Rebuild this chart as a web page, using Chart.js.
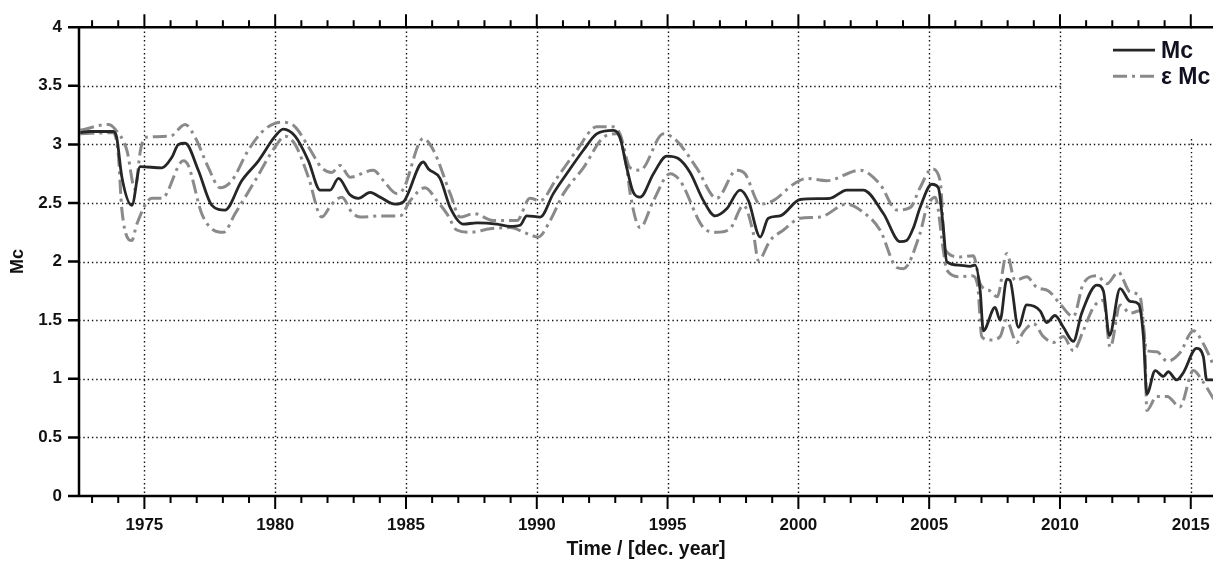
<!DOCTYPE html>
<html>
<head>
<meta charset="utf-8">
<script src="https://cdn.jsdelivr.net/npm/chart.js@4.4.1/dist/chart.umd.min.js"></script>
<style>
  html, body { margin: 0; padding: 0; background: #fff; }
  #wrap { width: 1213px; height: 561px; }
</style>
</head>
<body>
<div id="wrap"><canvas id="mcChart"></canvas></div>
<script>
// Magnitude of completeness through time, with its +/- uncertainty band
var mcYears = [1972.55, 1972.9, 1973.81, 1973.94, 1974.14, 1974.52, 1974.84, 1975.67, 1976.05, 1976.30,
  1976.56, 1977.06, 1977.58, 1978.08, 1978.72, 1979.36, 1980.00, 1980.31, 1980.76, 1981.27,
  1981.72, 1982.10, 1982.42, 1982.86, 1983.18, 1983.63, 1984.01, 1984.58, 1984.90, 1985.66,
  1985.86, 1986.30, 1986.69, 1987.19, 1987.71, 1988.47, 1988.98, 1989.36, 1989.62, 1990.13,
  1990.63, 1991.27, 1991.78, 1992.29, 1992.93, 1993.18, 1993.44, 1993.69, 1993.95, 1994.46,
  1994.97, 1995.41, 1995.86, 1996.37, 1996.82, 1997.26, 1997.77, 1998.09, 1998.54, 1998.85,
  1999.30, 2000.07, 2001.21, 2001.85, 2002.48, 2003.25, 2003.89, 2004.14, 2004.40, 2004.65,
  2005.10, 2005.35, 2005.54, 2005.67, 2006.12, 2006.56, 2006.76, 2006.95, 2007.07, 2007.52,
  2007.71, 2007.97, 2008.09, 2008.41, 2008.73, 2009.24, 2009.49, 2009.81, 2010.13, 2010.51,
  2010.83, 2011.41, 2011.66, 2011.89, 2012.30, 2012.68, 2013.00, 2013.19, 2013.32, 2013.64,
  2013.95, 2014.14, 2014.46, 2014.71, 2015.22, 2015.48, 2015.61, 2015.9];
var mcValues = [3.10, 3.11, 3.11, 3.06, 2.72, 2.48, 2.81, 2.80, 2.89, 3.00,
  3.01, 2.78, 2.48, 2.44, 2.69, 2.86, 3.07, 3.13, 3.07, 2.86,
  2.61, 2.61, 2.71, 2.57, 2.54, 2.59, 2.55, 2.49, 2.51, 2.85,
  2.79, 2.71, 2.46, 2.32, 2.33, 2.32, 2.30, 2.31, 2.39, 2.38,
  2.58, 2.79, 2.95, 3.09, 3.12, 3.06, 2.80, 2.59, 2.55, 2.75,
  2.90, 2.88, 2.76, 2.52, 2.39, 2.45, 2.61, 2.52, 2.21, 2.37,
  2.39, 2.53, 2.54, 2.61, 2.61, 2.41, 2.17, 2.18, 2.29, 2.46,
  2.66, 2.63, 2.29, 2.00, 1.97, 1.96, 1.97, 1.75, 1.41, 1.61,
  1.50, 1.85, 1.84, 1.44, 1.63, 1.58, 1.48, 1.54, 1.44, 1.32,
  1.56, 1.80, 1.75, 1.37, 1.77, 1.66, 1.64, 1.36, 0.87, 1.07,
  1.02, 1.06, 0.99, 1.05, 1.26, 1.19, 0.99, 0.99];

var upperYears = [1972.55, 1973.62, 1973.88, 1974.33, 1974.64, 1974.85, 1975.03, 1975.98, 1976.56, 1976.94,
  1977.45, 1977.89, 1978.34, 1978.97, 1979.61, 1980.25, 1980.76, 1981.27, 1981.78, 1982.16,
  1982.48, 1982.86, 1983.75, 1984.14, 1984.65, 1984.90, 1985.66, 1986.05, 1986.69, 1987.07,
  1987.60, 1988.34, 1989.24, 1989.74, 1990.13, 1990.76, 1991.53, 1992.29, 1992.93, 1993.18,
  1993.57, 1993.95, 1994.84, 1995.35, 1996.11, 1996.88, 1997.64, 1997.96, 1998.54, 1999.04,
  1999.81, 2000.32, 2001.08, 2002.36, 2003.12, 2003.76, 2004.27, 2004.65, 2005.10, 2005.42,
  2005.61, 2006.18, 2006.69, 2006.95, 2007.33, 2007.60, 2007.97, 2008.28, 2008.73, 2009.11,
  2009.56, 2010.00, 2010.51, 2010.89, 2011.41, 2011.79, 2012.23, 2012.68, 2013.06, 2013.32,
  2013.70, 2014.10, 2014.58, 2015.10, 2015.48, 2015.9];
var upperValues = [3.12, 3.17, 3.13, 2.95, 2.62, 2.95, 3.06, 3.07, 3.17, 3.06,
  2.80, 2.63, 2.69, 2.95, 3.13, 3.19, 3.15, 2.98, 2.80, 2.76,
  2.82, 2.72, 2.78, 2.69, 2.58, 2.62, 3.05, 2.95, 2.58, 2.38,
  2.41, 2.35, 2.35, 2.54, 2.52, 2.71, 2.95, 3.15, 3.15, 3.09,
  2.80, 2.78, 3.09, 3.03, 2.80, 2.54, 2.78, 2.75, 2.49, 2.52,
  2.66, 2.71, 2.69, 2.78, 2.66, 2.44, 2.46, 2.63, 2.79, 2.69,
  2.10, 2.04, 2.05, 1.81, 1.75, 1.70, 2.07, 1.84, 1.87, 1.78,
  1.75, 1.64, 1.53, 1.81, 1.88, 1.81, 1.91, 1.74, 1.70, 1.24,
  1.23, 1.15, 1.22, 1.41, 1.30, 1.10];

var lowerYears = [1972.55, 1973.81, 1974.00, 1974.14, 1974.52, 1974.71, 1975.28, 1975.67, 1976.49, 1976.68,
  1977.19, 1977.64, 1978.02, 1978.47, 1979.23, 1980.00, 1980.38, 1980.76, 1981.27, 1981.78,
  1982.16, 1982.55, 1982.93, 1983.25, 1984.01, 1984.77, 1985.16, 1985.73, 1986.18, 1986.56,
  1986.94, 1987.45, 1988.22, 1988.98, 1989.62, 1990.06, 1990.51, 1991.02, 1991.78, 1992.55,
  1993.06, 1993.44, 1993.57, 1993.95, 1994.46, 1995.10, 1995.48, 1996.37, 1996.88, 1997.39,
  1997.90, 1998.28, 1998.47, 1998.92, 1999.43, 2000.07, 2000.83, 2001.85, 2002.36, 2003.12,
  2003.76, 2004.01, 2004.65, 2004.91, 2005.23, 2005.54, 2005.67, 2006.18, 2006.63, 2006.85,
  2007.01, 2007.33, 2007.71, 2007.95, 2008.35, 2008.60, 2008.99, 2009.37, 2009.75, 2010.13,
  2010.51, 2010.89, 2011.28, 2011.66, 2011.92, 2012.30, 2012.68, 2013.06, 2013.25, 2013.32,
  2013.70, 2014.10, 2014.58, 2015.10, 2015.45, 2015.9];
var lowerValues = [3.09, 3.10, 2.92, 2.44, 2.18, 2.32, 2.54, 2.54, 2.86, 2.82,
  2.41, 2.27, 2.25, 2.41, 2.69, 2.98, 3.07, 3.00, 2.72, 2.38,
  2.49, 2.55, 2.42, 2.38, 2.39, 2.39, 2.52, 2.63, 2.52, 2.41,
  2.27, 2.25, 2.28, 2.29, 2.24, 2.21, 2.35, 2.58, 2.80, 3.06,
  3.09, 2.80, 2.58, 2.29, 2.52, 2.75, 2.69, 2.29, 2.25, 2.28,
  2.48, 2.24, 2.01, 2.18, 2.27, 2.37, 2.38, 2.49, 2.44, 2.27,
  1.95, 1.94, 2.24, 2.46, 2.55, 2.10, 1.93, 1.87, 1.88, 1.80,
  1.36, 1.33, 1.36, 1.50, 1.31, 1.40, 1.47, 1.36, 1.31, 1.36,
  1.24, 1.41, 1.61, 1.67, 1.27, 1.63, 1.56, 1.58, 1.24, 0.73,
  0.85, 0.85, 0.76, 1.07, 0.98, 0.82];

var xMin = 1972.5, xMax = 2015.85;
var yMin = 0, yMax = 4;

function toPoints(xs, ys) {
  var pts = [];
  for (var i = 0; i < xs.length; i++) {
    pts.push({ x: xs[i], y: ys[i] });
  }
  return pts;
}

var sansFont = "'Liberation Sans', Arial, sans-serif";
var errDash = [14, 5, 3, 5];

// grid, axis frame with outward ticks, and the legend box
var framePlugin = {
  id: 'frame',
  beforeDatasetsDraw: function(chart) {
    var ctx = chart.ctx, a = chart.chartArea;
    var xs = chart.scales.x, ys = chart.scales.y;
    ctx.save();
    ctx.strokeStyle = '#111';
    ctx.lineWidth = 1.4;
    ctx.setLineDash([1.4, 2.9]);
    ctx.beginPath();
    for (var yr = 1975; yr <= xMax; yr += 5) {
      var px = Math.round(xs.getPixelForValue(yr)) + 0.5;
      ctx.moveTo(px, a.top);
      ctx.lineTo(px, a.bottom);
    }
    for (var v = 0.5; v < yMax; v += 0.5) {
      var py = Math.round(ys.getPixelForValue(v)) + 0.5;
      ctx.moveTo(a.left, py);
      ctx.lineTo(a.right, py);
    }
    ctx.stroke();
    ctx.restore();
  },
  afterDatasetsDraw: function(chart) {
    var ctx = chart.ctx, a = chart.chartArea;
    var sets = chart.data.datasets;
    ctx.save();
    ctx.fillStyle = '#fff';
    ctx.fillRect(a.right - 150, a.top + 2, 150, 108);
    ctx.font = 'bold 23px ' + sansFont;
    ctx.textBaseline = 'alphabetic';
    ctx.textAlign = 'left';
    for (var i = 0; i < 2; i++) {
      var ds = sets[i];
      var ly = a.top + 23 + i * 26;
      ctx.strokeStyle = ds.borderColor;
      ctx.lineWidth = ds.borderWidth;
      ctx.setLineDash(ds.borderDash || []);
      ctx.beginPath();
      ctx.moveTo(a.right - 100, ly);
      ctx.lineTo(a.right - 58, ly);
      ctx.stroke();
      ctx.fillStyle = '#10101e';
      ctx.fillText(ds.label, a.right - 52, ly + 7.5);
    }
    ctx.restore();
  },
  afterDraw: function(chart) {
    var ctx = chart.ctx, a = chart.chartArea;
    var xs = chart.scales.x, ys = chart.scales.y;
    ctx.save();
    ctx.strokeStyle = '#000';
    ctx.setLineDash([]);
    ctx.lineWidth = 2.5;
    ctx.beginPath();
    ctx.moveTo(a.left - 11, a.top);
    ctx.lineTo(a.right, a.top);
    ctx.moveTo(a.left - 11, a.bottom);
    ctx.lineTo(a.right, a.bottom);
    ctx.moveTo(a.left, a.top);
    ctx.lineTo(a.left, a.bottom);
    for (var v = 0.5; v < yMax; v += 0.5) {
      var py = ys.getPixelForValue(v);
      ctx.moveTo(a.left - 11, py);
      ctx.lineTo(a.left, py);
    }
    ctx.stroke();
    ctx.lineWidth = 2;
    ctx.beginPath();
    for (var yr = Math.ceil(xMin); yr <= xMax; yr++) {
      var px = xs.getPixelForValue(yr);
      var len = yr % 5 === 0 ? 13 : 7;
      ctx.moveTo(px, a.bottom);
      ctx.lineTo(px, a.bottom + len);
      ctx.moveTo(px, a.top);
      ctx.lineTo(px, a.top - len);
    }
    ctx.stroke();
    ctx.restore();
  }
};

var ctx = document.getElementById('mcChart').getContext('2d');
var mcChart = new Chart(ctx, {
  type: 'line',
  data: {
    datasets: [
      {
        label: 'Mc',
        data: toPoints(mcYears, mcValues),
        borderColor: '#262626',
        borderWidth: 2.8,
        pointRadius: 0,
        fill: false,
        cubicInterpolationMode: 'monotone'
      },
      {
        label: '\u03b5 Mc',
        data: toPoints(upperYears, upperValues),
        borderColor: '#8a8a8a',
        borderWidth: 3,
        borderDash: errDash,
        pointRadius: 0,
        fill: false,
        cubicInterpolationMode: 'monotone'
      },
      {
        label: '\u03b5 Mc (low)',
        data: toPoints(lowerYears, lowerValues),
        borderColor: '#8a8a8a',
        borderWidth: 3,
        borderDash: errDash,
        pointRadius: 0,
        fill: false,
        cubicInterpolationMode: 'monotone'
      }
    ]
  },
  options: {
    responsive: true,
    maintainAspectRatio: false,
    animation: false,
    events: [],
    layout: { padding: { top: 26, right: 0, bottom: 0, left: 0 } },
    scales: {
      x: {
        type: 'linear',
        min: xMin,
        max: xMax,
        afterFit: function(scale) {
          scale.height = 65;
          scale.paddingLeft = 0;
          scale.paddingRight = 0;
        },
        grid: { display: false, drawTicks: false },
        border: { display: false },
        ticks: {
          stepSize: 5,
          includeBounds: false,
          maxRotation: 0,
          padding: 19,
          color: '#111',
          font: { family: sansFont, size: 17, weight: 'bold' },
          callback: function(v) { return String(v); }
        },
        title: {
          display: true,
          text: 'Time / [dec. year]',
          color: '#111',
          font: { family: sansFont, size: 19.5, weight: 'bold' },
          padding: { top: 0, bottom: 0 }
        }
      },
      y: {
        min: yMin,
        max: yMax,
        afterFit: function(scale) { scale.width = 79; },
        grid: { display: false, drawTicks: false },
        border: { display: false },
        ticks: {
          stepSize: 0.5,
          padding: 17,
          color: '#111',
          font: { family: sansFont, size: 17, weight: 'bold' },
          callback: function(v) { return String(v); }
        },
        title: {
          display: true,
          text: 'Mc',
          color: '#111',
          font: { family: sansFont, size: 18, weight: 'bold' },
          padding: { top: 7, bottom: 0 }
        }
      }
    },
    plugins: {
      legend: { display: false },
      tooltip: { enabled: false }
    }
  },
  plugins: [framePlugin]
});
</script>
</body>
</html>
